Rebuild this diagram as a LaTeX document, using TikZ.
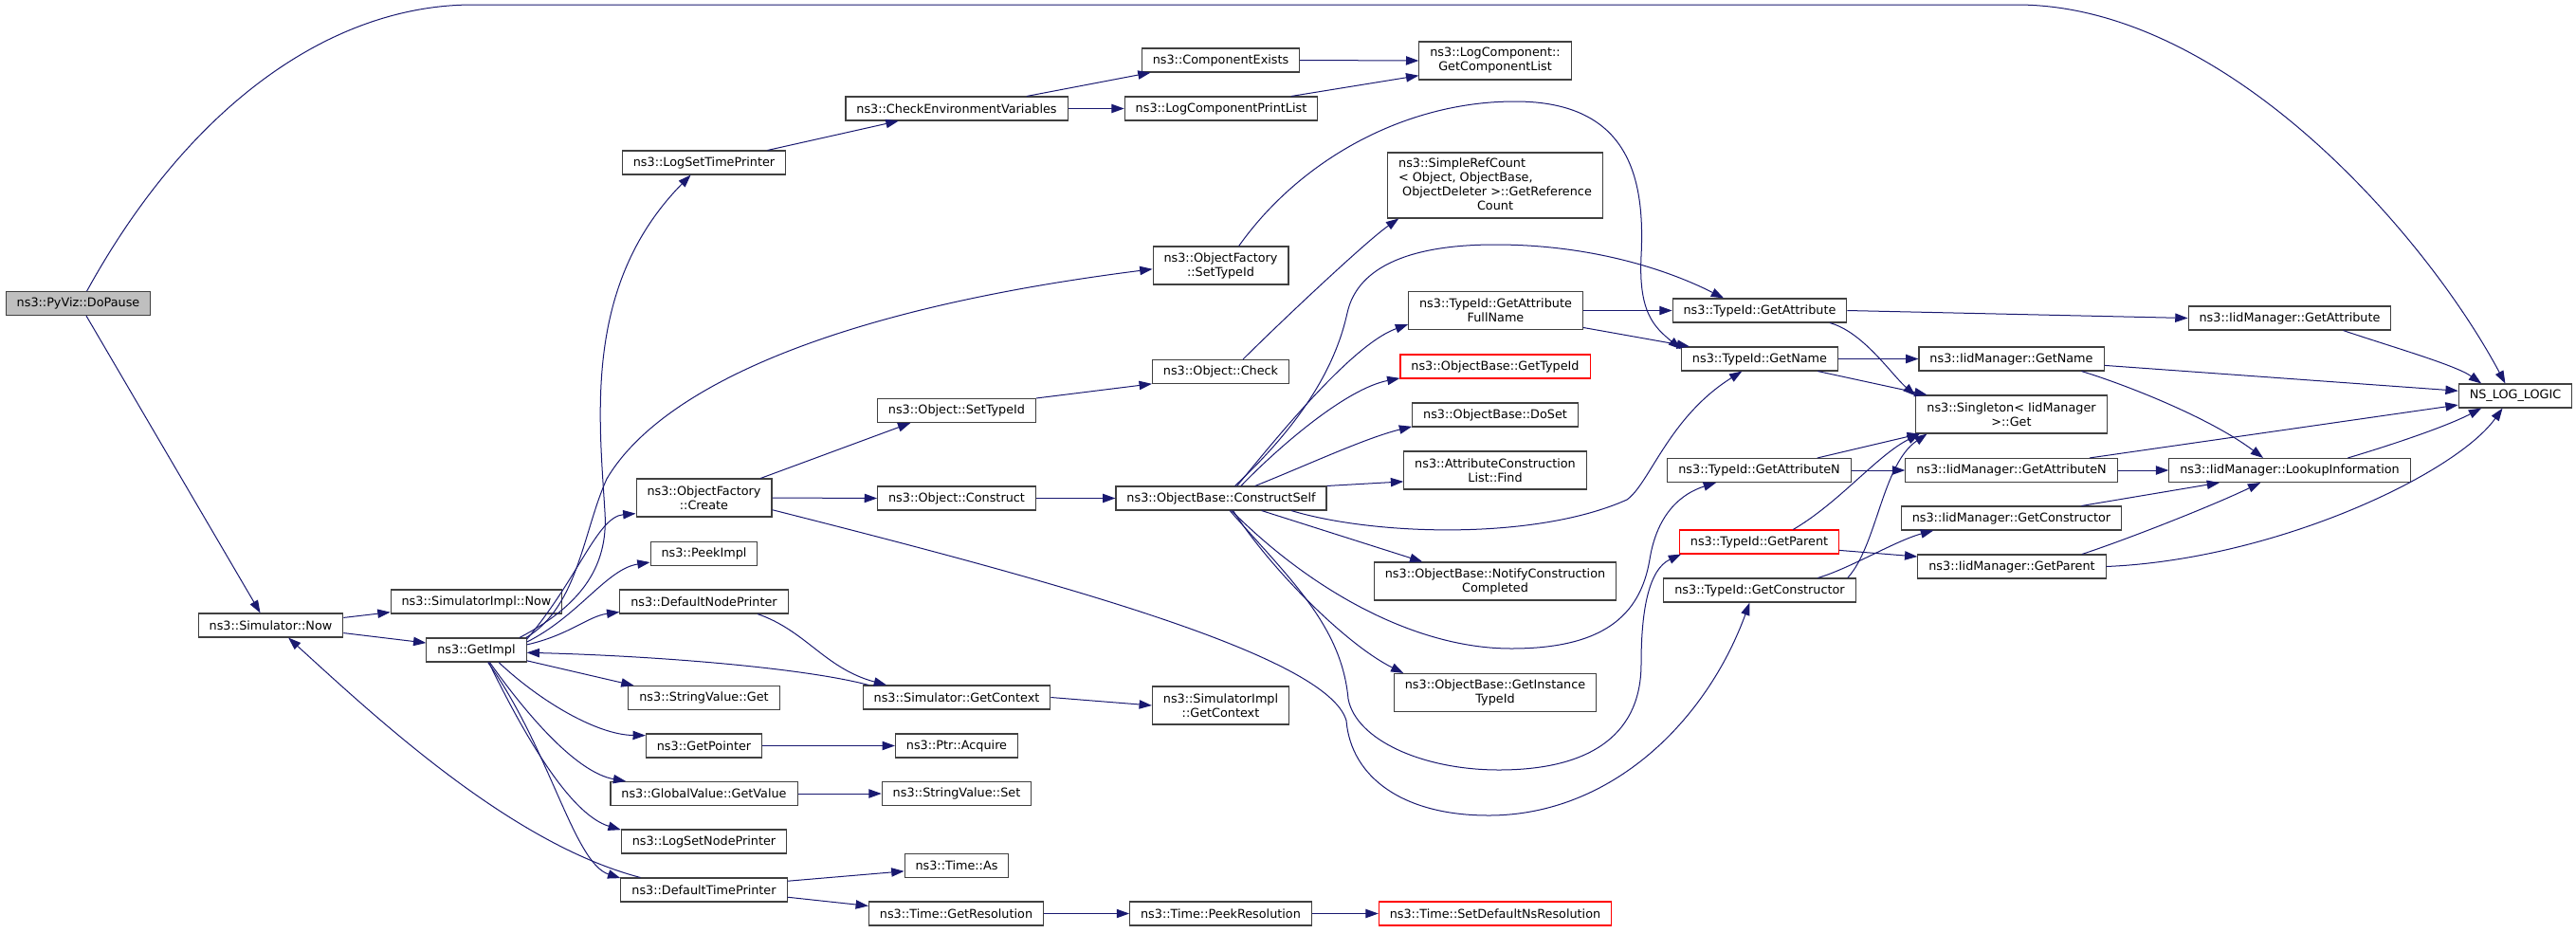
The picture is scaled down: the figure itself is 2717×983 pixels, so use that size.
\documentclass[tikz,border=0pt]{standalone}
\usepackage{fontspec}
\setmainfont{DejaVu Sans}
\usetikzlibrary{arrows.meta}
\definecolor{callblue}{HTML}{191970}
\definecolor{boxgrey}{HTML}{404040}
\definecolor{rootgrey}{HTML}{BFBFBF}
\definecolor{badred}{HTML}{FF0000}
\begin{document}
\begin{tikzpicture}[x=0.75pt,y=-0.75pt,>={Triangle[length=10pt,width=7pt]},
  fn/.style={draw=boxgrey,fill=white,line width=0.8pt,inner xsep=8.6pt,inner ysep=2pt,
    minimum height=18.75pt,align=center,font=\fontsize{9.6}{11.25}\selectfont},
  twoline/.style={minimum height=30pt},
  redfn/.style={draw=badred},
  callarrow/.style={->,draw=callblue,line width=0.75pt}]
\useasboundingbox (0,0) rectangle (2717,983);

\node[fn,fill=rootgrey] (dopause) at (82.5,320) {ns3::PyViz::DoPause};
\node[fn] (simnow) at (285.5,659.5) {ns3::Simulator::Now};
\node[fn] (simimplnow) at (502.5,634.5) {ns3::SimulatorImpl::Now};
\node[fn] (getimpl) at (502.5,685.5) {ns3::GetImpl};
\node[fn] (logsettime) at (742.5,171.5) {ns3::LogSetTimePrinter};
\node[fn,twoline] (ofcreate) at (742.5,525) {ns3::ObjectFactory\\::Create};
\node[fn] (peekimpl) at (742.5,584) {ns3::PeekImpl};
\node[fn] (defnode) at (742.5,634.5) {ns3::DefaultNodePrinter};
\node[fn] (strget) at (742.5,736) {ns3::StringValue::Get};
\node[fn] (getptr) at (742.5,786.5) {ns3::GetPointer};
\node[fn] (globalget) at (742.5,837) {ns3::GlobalValue::GetValue};
\node[fn] (logsetnode) at (742.5,887.5) {ns3::LogSetNodePrinter};
\node[fn] (deftime) at (742.5,938.5) {ns3::DefaultTimePrinter};
\node[fn] (checkenv) at (1009,114.5) {ns3::CheckEnvironmentVariables};
\node[fn] (objsettype) at (1009,433) {ns3::Object::SetTypeId};
\node[fn] (objconstruct) at (1009,525.5) {ns3::Object::Construct};
\node[fn] (simgetctx) at (1009,735.5) {ns3::Simulator::GetContext};
\node[fn] (ptracq) at (1009,786.5) {ns3::Ptr::Acquire};
\node[fn] (strset) at (1009,837) {ns3::StringValue::Set};
\node[fn] (timeas) at (1009,913) {ns3::Time::As};
\node[fn] (timegetres) at (1008.5,963.5) {ns3::Time::GetResolution};
\node[fn] (compexists) at (1287.5,63.5) {ns3::ComponentExists};
\node[fn] (logprint) at (1288,114.5) {ns3::LogComponentPrintList};
\node[fn,twoline] (ofsettype) at (1287.5,280) {ns3::ObjectFactory\\::SetTypeId};
\node[fn] (objcheck) at (1287.5,392) {ns3::Object::Check};
\node[fn] (cself) at (1288,525.5) {ns3::ObjectBase::ConstructSelf};
\node[fn,twoline] (simimplctx) at (1287.5,744) {ns3::SimulatorImpl\\::GetContext};
\node[fn] (timepeekres) at (1287.5,963.5) {ns3::Time::PeekResolution};
\node[fn,twoline] (getcomplist) at (1577,64) {ns3::LogComponent::\\GetComponentList};
\node[fn,minimum height=51.75pt] (simpleref) at (1577,195.5) {\begin{tabular}{@{}l@{}}ns3::SimpleRefCount\\< Object, ObjectBase,\\\ ObjectDeleter >::GetReference\\\multicolumn{1}{@{}c@{}}{Count}\end{tabular}};
\node[fn,twoline] (tidfullname) at (1577.5,327.5) {ns3::TypeId::GetAttribute\\FullName};
\node[fn,redfn] (obgettid) at (1577,386.5) {ns3::ObjectBase::GetTypeId};
\node[fn] (obdoset) at (1577,437.5) {ns3::ObjectBase::DoSet};
\node[fn,twoline] (attrfind) at (1577,496) {ns3::AttributeConstruction\\List::Find};
\node[fn,twoline] (obnotify) at (1577,613) {ns3::ObjectBase::NotifyConstruction\\Completed};
\node[fn,twoline] (obinst) at (1577,730.5) {ns3::ObjectBase::GetInstance\\TypeId};
\node[fn,redfn] (timesetdef) at (1577,963.5) {ns3::Time::SetDefaultNsResolution};
\node[fn] (tidgetattr) at (1856,327.5) {ns3::TypeId::GetAttribute};
\node[fn] (tidgetname) at (1856,378.5) {ns3::TypeId::GetName};
\node[fn] (tidgetattrn) at (1855.5,496) {ns3::TypeId::GetAttributeN};
\node[fn,redfn] (tidgetparent) at (1855.5,571.5) {ns3::TypeId::GetParent};
\node[fn] (tidgetctor) at (1856,622.5) {ns3::TypeId::GetConstructor};
\node[fn] (iidgetname) at (2121.5,378.5) {ns3::IidManager::GetName};
\node[fn,twoline] (singleton) at (2121.5,437) {ns3::Singleton< IidManager\\>::Get};
\node[fn] (iidgetattrn) at (2121.5,496) {ns3::IidManager::GetAttributeN};
\node[fn] (iidgetctor) at (2121.5,546.5) {ns3::IidManager::GetConstructor};
\node[fn] (iidgetparent) at (2122,597.5) {ns3::IidManager::GetParent};
\node[fn] (iidgetattr) at (2415,335.5) {ns3::IidManager::GetAttribute};
\node[fn] (iidlookup) at (2415,496) {ns3::IidManager::LookupInformation};
\node[fn] (nslog) at (2653,417.5) {NS\_LOG\_LOGIC};

\draw[callarrow] (dopause.55) .. controls (200,110) and (350,5) .. (499,5) --(2127,5) .. controls (2350,5) and (2560,250) .. (nslog.129);
\draw[callarrow] (dopause.-57) --(simnow.130);
\draw[callarrow] (simnow.6) --(simimplnow.187);
\draw[callarrow] (simnow.-6) --(getimpl.172);

\draw[callarrow] (getimpl.16) .. controls (610,640) and (642,600) .. (638,540) .. controls (632,440) and (615,300) .. (logsettime.223);
\draw[callarrow] (getimpl.14) .. controls (610,640) and (615,560) .. (640,505) .. controls (690,420) and (850,330) .. (ofsettype.183);
\draw[callarrow] (getimpl.12) .. controls (610,610) and (630,545) .. (ofcreate.193);
\draw[callarrow] (getimpl.9) .. controls (610,650) and (640,600) .. (peekimpl.189);
\draw[callarrow] (getimpl.6) .. controls (600,670) and (620,650) .. (defnode.187);
\draw[callarrow] (getimpl.-12) --(strget.170);
\draw[callarrow] (getimpl.-29) .. controls (570,740) and (630,775) .. (getptr.170);
\draw[callarrow] (getimpl.-43) .. controls (560,760) and (610,815) .. (globalget.171);
\draw[callarrow] (getimpl.-45) .. controls (560,790) and (605,860) .. (logsetnode.172);
\draw[callarrow] (getimpl.-47) .. controls (580,790) and (605,910) .. (deftime.172);
\draw[callarrow] (deftime.169) .. controls (540,890) and (400,760) .. (simnow.-35);
\draw[callarrow] (simgetctx.172) .. controls (850,705) and (700,692) .. (getimpl.-3);
\draw[callarrow] (defnode.-13) .. controls (850,665) and (870,705) .. (simgetctx.170);
\draw[callarrow] (simgetctx.east) --(simimplctx.west);
\draw[callarrow] (getptr.east) --(ptracq.west);
\draw[callarrow] (globalget.east) --(strset.west);
\draw[callarrow] (deftime.6) --(timeas.186);
\draw[callarrow] (deftime.-5) --(timegetres.175);
\draw[callarrow] (timegetres.east) --(timepeekres.west);
\draw[callarrow] (timepeekres.east) --(timesetdef.west);

\draw[callarrow] (logsettime.11) --(checkenv.192);
\draw[callarrow] (checkenv.10) --(compexists.190);
\draw[callarrow] (checkenv.east) --(logprint.west);
\draw[callarrow] (compexists.east) --(getcomplist.west);
\draw[callarrow] (logprint.10) --(getcomplist.191);

\draw[callarrow] (ofsettype.47) .. controls (1370,170) and (1480,107) .. (1598,107) .. controls (1720,107) and (1735,190) .. (1731,270) .. controls (1728,330) and (1745,345) .. (tidgetname.173);
\draw[callarrow] (objcheck.29) .. controls (1345,345) and (1440,255) .. (simpleref.199);
\draw[callarrow] (ofcreate.19) --(objsettype.195);
\draw[callarrow] (ofcreate.east) --(objconstruct.west);
\draw[callarrow] (ofcreate.-10) .. controls (1100,610) and (1400,690) .. (1420,760) .. controls (1425,820) and (1480,860) .. (1570,860) .. controls (1700,860) and (1800,760) .. (tidgetctor.231);
\draw[callarrow] (objsettype.north east) --(objcheck.190);
\draw[callarrow] (objconstruct.east) --(cself.west);

\draw[callarrow] (cself.42) .. controls (1380,440) and (1410,380) .. (1421,330) .. controls (1432,280) and (1490,258) .. (1577,258) .. controls (1680,258) and (1760,285) .. (tidgetattr.161);
\draw[callarrow] (cself.38) .. controls (1340,470) and (1424,364) .. (tidfullname.189);
\draw[callarrow] (cself.32) .. controls (1350,470) and (1420,410) .. (obgettid.187);
\draw[callarrow] (cself.20) .. controls (1380,490) and (1440,462) .. (obdoset.188);
\draw[callarrow] (cself.north east) --(attrfind.187);
\draw[callarrow] (cself.-10) .. controls (1450,565) and (1620,570) .. (1716,527) .. controls (1740,510) and (1760,440) .. (tidgetname.215);
\draw[callarrow] (cself.-17) --(obnotify.165);
\draw[callarrow] (cself.-46) .. controls (1340,600) and (1420,680) .. (obinst.168);
\draw[callarrow] (cself.-50) .. controls (1380,620) and (1490,684) .. (1594,684) .. controls (1690,684) and (1730,650) .. (1740,590) .. controls (1748,540) and (1775,520) .. (tidgetattrn.196);
\draw[callarrow] (cself.-55) .. controls (1360,610) and (1415,660) .. (1422,737) .. controls (1430,780) and (1500,812) .. (1581,812) .. controls (1670,812) and (1731,780) .. (1731,700) .. controls (1731,640) and (1740,600) .. (tidgetparent.189);

\draw[callarrow] (tidfullname.east) --(tidgetattr.west);
\draw[callarrow] (tidfullname.-11) --(tidgetname.170);
\draw[callarrow] (tidgetattr.east) --(iidgetattr.west);
\draw[callarrow] (tidgetattr.-10) .. controls (1965,350) and (1995,395) .. (singleton.169);
\draw[callarrow] (tidgetname.east) --(iidgetname.west);
\draw[callarrow] (tidgetname.-12) --(singleton.167);
\draw[callarrow] (tidgetattrn.12) --(singleton.192);
\draw[callarrow] (tidgetattrn.east) --(iidgetattrn.west);
\draw[callarrow] (tidgetparent.20) .. controls (1940,530) and (1980,480) .. (singleton.192);
\draw[callarrow] (tidgetparent.-6) --(iidgetparent.174);
\draw[callarrow] (tidgetctor.8) .. controls (1980,575) and (1985,490) .. (singleton.193);
\draw[callarrow] (tidgetctor.12) .. controls (1950,600) and (2000,570) .. (iidgetctor.189);

\draw[callarrow] (iidgetattr.-13) .. controls (2520,365) and (2590,385) .. (nslog.160);
\draw[callarrow] (iidgetname.-4) --(nslog.175);
\draw[callarrow] (iidgetname.-10) .. controls (2240,405) and (2330,440) .. (iidlookup.155);
\draw[callarrow] (iidgetattrn.9) --(nslog.189);
\draw[callarrow] (iidgetattrn.east) --(iidlookup.west);
\draw[callarrow] (iidgetctor.10) --(iidlookup.190);
\draw[callarrow] (iidgetparent.10) .. controls (2240,570) and (2330,535) .. (iidlookup.203);
\draw[callarrow] (iidgetparent.east) .. controls (2400,590) and (2590,500) .. (nslog.224);
\draw[callarrow] (iidlookup.12) .. controls (2520,470) and (2580,450) .. (nslog.200);
\end{tikzpicture}
\end{document}
